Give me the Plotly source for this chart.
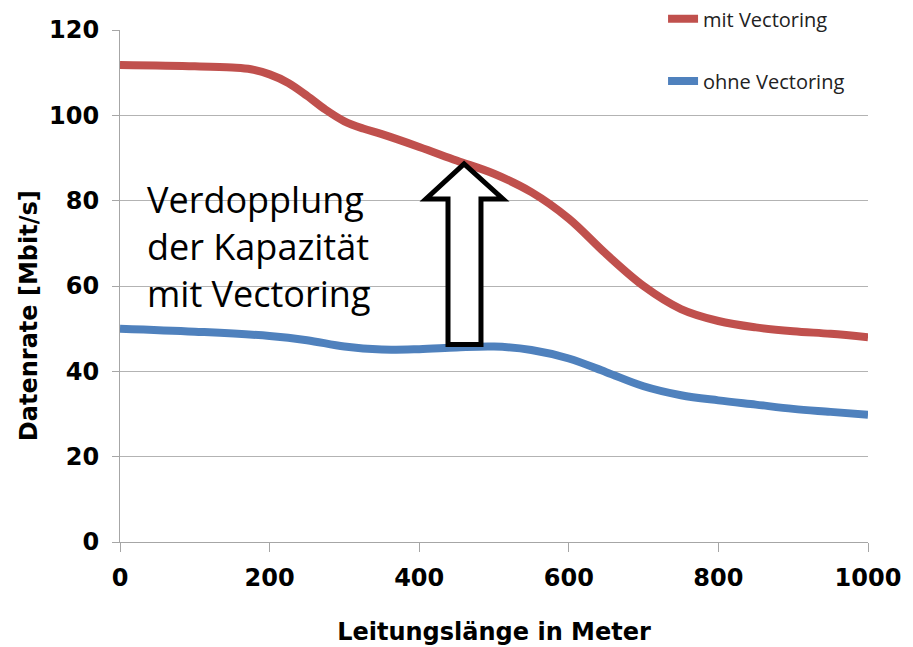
import plotly.graph_objects as go

# Data
laenge_mit = [0, 100, 150, 175, 200, 225, 250, 275, 300, 325, 350, 400, 450, 500,
              550, 600, 650, 700, 750, 800, 850, 900, 950, 1000]
mit_vectoring = [111.8, 111.5, 111.2, 110.8, 109.6, 107.6, 104.6, 101.3, 98.6, 96.9, 95.6,
                 92.6, 89.4, 86.3, 82.0, 75.8, 67.5, 60.0, 54.6, 51.8, 50.3, 49.4, 48.8, 48.0]
laenge_ohne = [0, 100, 200, 250, 300, 350, 400, 450, 500, 550,
               600, 650, 700, 750, 800, 850, 900, 950, 1000]
ohne_vectoring = [50.0, 49.3, 48.3, 47.3, 45.8, 45.1, 45.2, 45.6, 45.8, 45.0,
                  43.0, 39.8, 36.5, 34.4, 33.2, 32.2, 31.2, 30.5, 29.8]
x_ticks = [0, 200, 400, 600, 800, 1000]
y_ticks = [0, 20, 40, 60, 80, 100, 120]

RED = "#C0504D"
BLUE = "#4F81BD"
GRID = "#b3b3b3"
AXIS = "#a6a6a6"

fig = go.Figure()
fig.add_trace(go.Scatter(
    x=laenge_mit, y=mit_vectoring, mode="lines", name="mit Vectoring",
    line=dict(color=RED, width=8, shape="spline", smoothing=1.0),
    legend="legend",
))
fig.add_trace(go.Scatter(
    x=laenge_ohne, y=ohne_vectoring, mode="lines", name="ohne Vectoring",
    line=dict(color=BLUE, width=8, shape="spline", smoothing=1.0),
    legend="legend2",
))

tickfont = dict(family="DejaVu Sans", size=24, color="black", weight="bold")
titlefont = dict(family="DejaVu Sans", size=24, color="black", weight="bold")

fig.update_layout(
    width=905, height=639, autosize=False,
    margin=dict(l=112, r=45, t=22, b=105, autoexpand=False),
    paper_bgcolor="white", plot_bgcolor="white",
    xaxis=dict(
        range=[0, 1000], tickvals=x_ticks, ticktext=[str(v) for v in x_ticks],
        showgrid=False, zeroline=False, showline=True, linecolor=AXIS, linewidth=1,
        ticks="outside", ticklen=9, tickcolor=AXIS, tickwidth=1,
        tickfont=tickfont, ticklabelstandoff=5,
        title=dict(text="Leitungslänge in Meter", font=titlefont, standoff=32),
        automargin=False,
    ),
    yaxis=dict(
        range=[0, 120], tickvals=y_ticks, ticktext=[str(v) for v in y_ticks],
        showgrid=True, gridcolor=GRID, gridwidth=1, zeroline=False,
        showline=True, linecolor=AXIS, linewidth=1,
        ticks="outside", ticklen=7, tickcolor=AXIS, tickwidth=1,
        tickfont=tickfont, ticklabelstandoff=8,
        automargin=False,
    ),
    legend=dict(
        x=0.726, xanchor="left", y=1.022, yanchor="middle",
        bgcolor="rgba(0,0,0,0)", borderwidth=0,
        font=dict(family="Open Sans", size=20, color="#222222"),
    ),
    legend2=dict(
        x=0.726, xanchor="left", y=0.9004, yanchor="middle",
        bgcolor="rgba(0,0,0,0)", borderwidth=0,
        font=dict(family="Open Sans", size=20, color="#222222"),
    ),
    showlegend=True,
)

# y-axis title (placed as in the reference, slightly below centre)
fig.add_annotation(
    xref="paper", yref="paper", x=-0.1217, y=0.443,
    xanchor="center", yanchor="middle", textangle=-90, showarrow=False,
    text="Datenrate [Mbit/s]", font=titlefont,
)

# white patch hiding the top gridline behind the legend
fig.add_shape(type="rect", xref="paper", yref="paper",
              x0=0.686, x1=1.01, y0=0.99, y1=1.01,
              fillcolor="white", line=dict(width=0), layer="above")

# block arrow
fig.add_shape(type="path", xref="x", yref="y",
              path="M 438.5,46.3 L 438.5,80.4 L 409,80.4 L 460,88.6 L 512,80.4 "
                   "L 482.6,80.4 L 482.6,46.3 Z",
              fillcolor="white", line=dict(color="black", width=5), layer="above")

fig.add_annotation(
    xref="paper", yref="paper", x=0.0334, y=0.578,
    xanchor="left", yanchor="middle", align="left", showarrow=False,
    text="Verdopplung<br>der Kapazität<br>mit Vectoring",
    font=dict(family="Open Sans", size=36, color="black"),
)

fig.write_html("out.html")
